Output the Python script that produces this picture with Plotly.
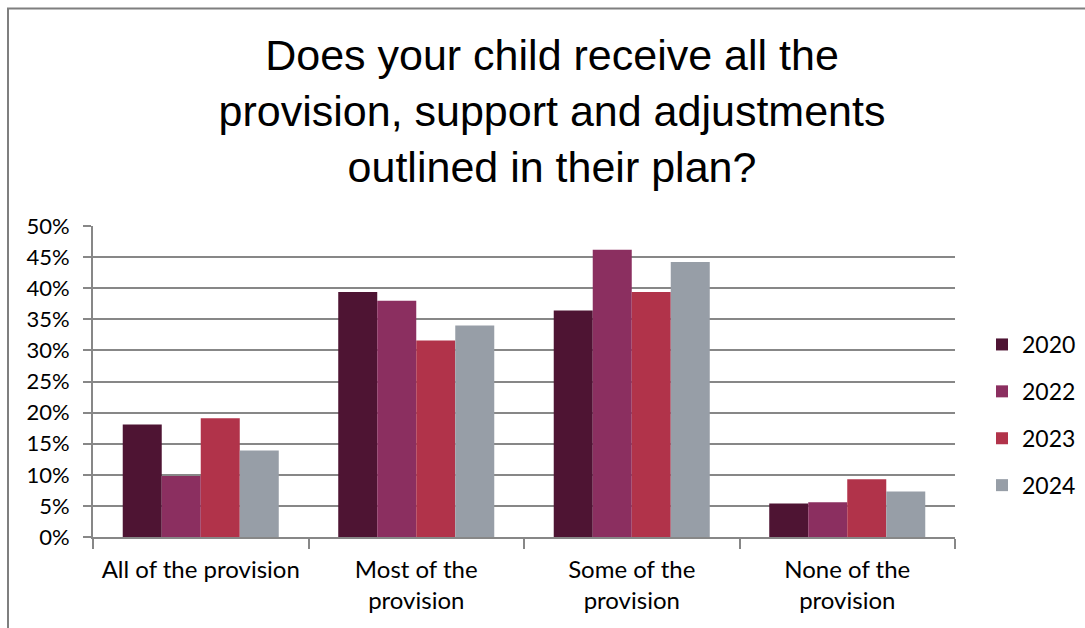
import plotly.graph_objects as go

# Survey responses (share of respondents) by year
categories = ["All of the provision", "Most of the<br>provision",
              "Some of the<br>provision", "None of the<br>provision"]
years = ["2020", "2022", "2023", "2024"]
values_2020 = [0.181, 0.394, 0.364, 0.054]
values_2022 = [0.098, 0.380, 0.462, 0.056]
values_2023 = [0.191, 0.316, 0.394, 0.093]
values_2024 = [0.139, 0.340, 0.442, 0.073]
series = [values_2020, values_2022, values_2023, values_2024]
colors = ["#4E1433", "#8B2F60", "#B1334A", "#979EA7"]
y_ticks = [i / 20 for i in range(11)]
y_tick_labels = [f"{int(round(v * 100))}%" for v in y_ticks]

GRID = "#878787"
W, H = 1085, 628
L, R, T, B = 93, 130, 226, 91

fig = go.Figure()
for name, vals, col in zip(years, series, colors):
    fig.add_trace(go.Bar(
        x=categories, y=vals, name=name, legendgroup=name,
        marker=dict(color=col, line=dict(width=0)),
        hoverinfo="skip",
    ))

# Outer frame lines (left and top) around the chart area
pw, ph = W - L - R, H - T - B
def px_x(x): return (x - L) / pw
def px_y(y): return (H - B - y) / ph

fig.add_shape(type="line", xref="paper", yref="paper",
              x0=px_x(8), x1=px_x(8), y0=px_y(8.5), y1=px_y(640),
              line=dict(color="#7f7f7f", width=2))
fig.add_shape(type="line", xref="paper", yref="paper",
              x0=px_x(7), x1=px_x(1100), y0=px_y(8.5), y1=px_y(8.5),
              line=dict(color="#7f7f7f", width=2))

fig.update_layout(
    width=W, height=H,
    margin=dict(l=L, r=R, t=T, b=B, autoexpand=False),
    paper_bgcolor="white", plot_bgcolor="white",
    barmode="group", bargap=0.276, bargroupgap=0,
    title=dict(
        text="Does your child receive all the<br>provision, support and adjustments<br>outlined in their plan?",
        font=dict(family="Liberation Sans, Arial, sans-serif", size=43, color="black"),
        x=552 / W, xanchor="center", xref="container",
        y=1 - 70 / H, yanchor="middle", yref="container",
    ),
    font=dict(family="Lato, sans-serif", color="black"),
    legend=dict(
        x=982 / W, xref="container", xanchor="left",
        y=1 - 415 / H, yanchor="middle", yref="container",
        font=dict(family="Lato, sans-serif", size=23, color="black"),
        tracegroupgap=14, itemclick=False, bgcolor="rgba(0,0,0,0)",
        traceorder="grouped",
    ),
    xaxis=dict(
        showline=True, linecolor=GRID, linewidth=2,
        ticks="outside", tickson="boundaries", ticklen=10,
        tickcolor=GRID, tickwidth=2, ticklabelstandoff=10,
        tickfont=dict(family="Lato, sans-serif", size=24, color="black"),
        showgrid=False, fixedrange=True,
    ),
    yaxis=dict(
        range=[0, 0.5], tickvals=y_ticks, ticktext=y_tick_labels,
        showline=True, linecolor=GRID, linewidth=2,
        ticks="outside", ticklen=8, tickcolor=GRID, tickwidth=2,
        ticklabelstandoff=9,
        showgrid=True, gridcolor=GRID, gridwidth=2,
        zeroline=False,
        tickfont=dict(family="Lato, sans-serif", size=22, color="black"),
        fixedrange=True,
    ),
)

fig.write_html("out.html")
